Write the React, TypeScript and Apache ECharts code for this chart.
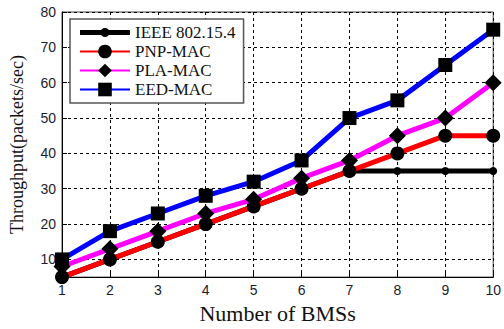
import React, { useEffect, useRef } from "react";
import * as echarts from "echarts";

const xValues = [1, 2, 3, 4, 5, 6, 7, 8, 9, 10];
const ieee = [5, 10, 15, 20, 25, 30, 35, 35, 35, 35];
const pnp = [5, 10, 15, 20, 25, 30, 35, 40, 45, 45];
const pla = [8, 13, 18, 23, 27, 33, 38, 45, 50, 60];
const eed = [10, 18, 23, 28, 32, 38, 50, 55, 65, 75];
const yTicks = [10, 20, 30, 40, 50, 60, 70, 80];

const pairs = (ys: number[]) => xValues.map((x, i) => [x, ys[i]]);

export default function App() {
  const ref = useRef<HTMLDivElement>(null);
  useEffect(() => {
    document.body.style.margin = "0";
    const chart = echarts.init(ref.current!, undefined, { renderer: "svg" });
    const serif = "'Liberation Serif', 'DejaVu Serif', serif";
    const sans = "'Liberation Sans', Arial, sans-serif";
    const labelColor = "#1c1c30";
    const mk = (name: string, data: number[], color: string, symbol: string, size: number, z: number) => ({
      name,
      type: "line",
      data: pairs(data),
      symbol,
      symbolSize: size,
      z,
      lineStyle: { color, width: 5 },
      itemStyle: { color: "#000" },
      emphasis: { disabled: true },
    });
    const lineDot =
      "path://M0,0M50,17M0,6L50,6L50,11L0,11ZM20.5,8.5A4.5,4.5,0,1,1,29.5,8.5A4.5,4.5,0,1,1,20.5,8.5Z";
    chart.setOption({
      animation: false,
      grid: { left: 61, right: 9, top: 12, bottom: 43, show: true, borderColor: "#444", borderWidth: 1 },
      legend: {
        orient: "vertical",
        left: 70,
        top: 19,
        backgroundColor: "#fff",
        borderColor: "#555",
        borderWidth: 1.5,
        padding: [5, 8, 5, 9],
        itemWidth: 50,
        itemHeight: 17,
        itemGap: 2,
        textStyle: { fontFamily: serif, fontSize: 17, color: "#111" },
        data: [{ name: "IEEE 802.15.4", icon: lineDot }, "PNP-MAC", "PLA-MAC", "EED-MAC"],
      },
      xAxis: {
        type: "value",
        min: 1,
        max: 10,
        interval: 1,
        name: "Number of BMSs",
        nameLocation: "middle",
        nameGap: 17,
        nameTextStyle: { fontFamily: serif, fontSize: 22, color: "#111", verticalAlign: "top" },
        axisLine: { lineStyle: { color: "#000", width: 1 } },
        axisTick: { inside: true, length: 5, lineStyle: { color: "#000" } },
        axisLabel: { fontFamily: sans, fontSize: 14, color: labelColor, margin: 6 },
        splitLine: { show: true, lineStyle: { color: "#000", type: [3, 3], width: 1 } },
      },
      yAxis: {
        type: "value",
        min: 5,
        max: 80,
        name: "Throughput(packets/sec)",
        nameLocation: "middle",
        nameGap: 36,
        nameTextStyle: { fontFamily: serif, fontSize: 18, color: "#111" },
        axisLine: { lineStyle: { color: "#000", width: 1 } },
        axisTick: { inside: true, length: 5, lineStyle: { color: "#000" }, customValues: yTicks },
        axisLabel: {
          fontFamily: sans,
          fontSize: 14,
          color: labelColor,
          margin: 6,
          customValues: yTicks,
        },
        splitLine: { show: true, lineStyle: { color: "#000", type: [3, 3], width: 1 } },
      },
      series: [
        mk("IEEE 802.15.4", ieee, "#000", "circle", 8, 2),
        mk("PNP-MAC", pnp, "#ff0000", "circle", 14, 3),
        mk("PLA-MAC", pla, "#ff00ff", "diamond", 17, 4),
        mk("EED-MAC", eed, "#0000ff", "rect", 14, 5),
      ],
    });
    return () => chart.dispose();
  }, []);
  return <div ref={ref} style={{ position: "absolute", left: 0, top: 0, width: 504, height: 329 }} />;
}
